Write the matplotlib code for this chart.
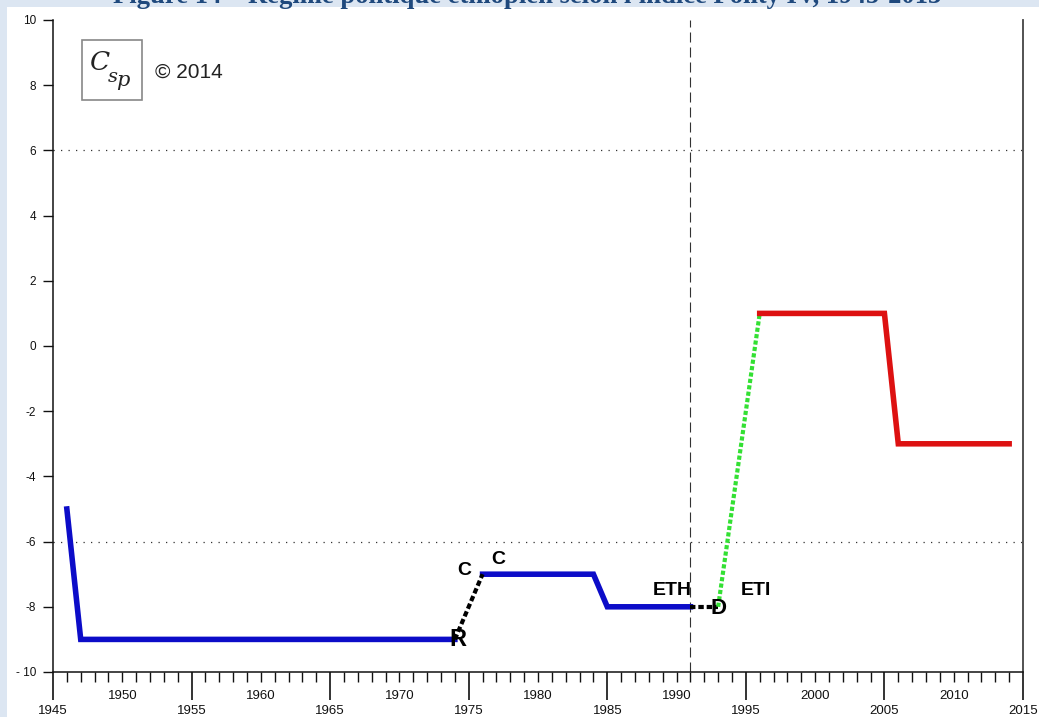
import matplotlib
matplotlib.use("Agg")
import matplotlib.pyplot as plt
from matplotlib.patches import Rectangle
from matplotlib.ticker import FixedLocator, FuncFormatter, MultipleLocator

# ---------------- data ----------------
title = "Figure 14 – Régime politique éthiopien selon l'indice Polity IV, 1945-2013"
autocracy1_years = [1946, 1947, 1974]
autocracy1_vals = [-5, -9, -9]
autocracy2_years = [1976, 1984, 1985, 1991]
autocracy2_vals = [-7, -7, -8, -8]
transition1_years = [1974, 1976]
transition1_vals = [-9, -7]
transition2_years = [1991, 1993]
transition2_vals = [-8, -8]
transition3_years = [1993, 1996]
transition3_vals = [-8, 1]
anocracy_years = [1996, 2005, 2006, 2014]
anocracy_vals = [1, 1, -3, -3]
event_labels = ["R", "C", "C", "ETH", "D", "ETI"]
event_x = [1974.2, 1974.7, 1977.1, 1989.7, 1993.0, 1995.7]
event_y = [-9.0, -6.9, -6.55, -7.5, -8.05, -7.5]
event_size = [17, 14, 14, 14, 16, 14]
y_ticks = [-10, -8, -6, -4, -2, 0, 2, 4, 6, 8, 10]
y_ticklabels = ["- 10", "-8", "-6", "-4", "-2", "0", "2", "4", "6", "8", "10"]
x_major = [1945, 1955, 1965, 1975, 1985, 1995, 2005, 2015]
ref_year = 1991
thresholds = [6, -6]

# ---------------- figure ----------------
W, H = 1039, 717
fig = plt.figure(figsize=(W / 100, H / 100), dpi=100)
fig.patch.set_facecolor("#dce6f2")
fig.patches.append(Rectangle((7 / W, 0), 1 - 7 / W, (H - 7) / H, transform=fig.transFigure,
                             facecolor="white", edgecolor="none", zorder=-10))

# title (only bottom part visible, cut off by the top edge as in the reference)
t = fig.text(527 / W, 1 - 3 / H, title, ha="center", va="baseline",
             fontsize=16, fontweight="bold", family="Liberation Serif", color="#1f497d")
fig.canvas.draw()
bb = t.get_window_extent()
t.set_fontsize(16 * 833 / bb.width)

ax = fig.add_axes([53 / W, (H - 672) / H, 970 / W, 652 / H])
ax.set_facecolor("none")
ax.set_xlim(1945, 2015)
ax.set_ylim(-10, 10)

ax.spines["top"].set_visible(False)
ax.spines["left"].set_linewidth(1.1)
ax.spines["bottom"].set_linewidth(1.1)
ax.spines["right"].set_linewidth(1.3)
ax.spines["right"].set_color("#444444")
ax.spines["left"].set_color("#111111")
ax.spines["bottom"].set_color("#111111")

# y ticks
ax.set_yticks(y_ticks)
ax.set_yticklabels(y_ticklabels)
ax.tick_params(axis="y", direction="out", length=7.2, width=1.0, pad=5,
               labelsize=8.5, colors="#111111")
for lab in ax.get_yticklabels():
    lab.set_family("Liberation Sans")

# x ticks: major every 5 years (long), minor every year (short), decade labels on minor
ax.xaxis.set_major_locator(FixedLocator(x_major))
ax.xaxis.set_major_formatter(FuncFormatter(lambda v, p: f"{int(round(v))}"))
ax.xaxis.set_minor_locator(MultipleLocator(1))
ax.xaxis.set_minor_formatter(FuncFormatter(
    lambda v, p: f"{int(round(v))}" if int(round(v)) % 10 == 0 else ""))
ax.tick_params(axis="x", which="major", direction="out", length=20, width=1.2,
               pad=3.5, labelsize=9.5, colors="#111111")
ax.tick_params(axis="x", which="minor", direction="out", length=7, width=1.0,
               pad=6, labelsize=9.5, colors="#111111")
for lab in ax.get_xticklabels(which="both"):
    lab.set_family("Liberation Sans")

# reference lines
for yv in thresholds:
    ax.axhline(yv, color="#333333", lw=0.9, linestyle=(0, (1, 5)), zorder=1)
ax.axvline(ref_year, color="#333333", lw=0.8, linestyle=(0, (9, 4.5)), zorder=1,
           ymin=0, ymax=1.0)

# series
blue = "#0c0cc8"
ax.plot(autocracy1_years, autocracy1_vals, color=blue, lw=4.0, solid_joinstyle="miter", zorder=3)
ax.plot(autocracy2_years, autocracy2_vals, color=blue, lw=4.0, solid_joinstyle="miter", zorder=3)
ax.plot(transition1_years, transition1_vals, color="black", lw=3.0,
        linestyle=(0, (1.3, 0.7)), zorder=3)
ax.plot(transition2_years, transition2_vals, color="black", lw=3.0,
        linestyle=(0, (1.3, 0.7)), zorder=3)
ax.plot(transition3_years, transition3_vals, color="#33e033", lw=3.0,
        linestyle=(0, (1.0, 0.55)), zorder=3)
ax.plot(anocracy_years, anocracy_vals, color="#dd1111", lw=4.0, solid_joinstyle="miter", zorder=3)

for lab, xx, yy, fs in zip(event_labels, event_x, event_y, event_size):
    ax.text(xx, yy, lab, ha="center", va="center", fontsize=fs, fontweight="bold",
            family="Liberation Sans", color="black", zorder=4)

# logo
fig.patches.append(Rectangle((82 / W, 1 - 100 / H), 60 / W, 60 / H, transform=fig.transFigure,
                             facecolor="white", edgecolor="#888888", lw=1.2, zorder=2))
fig.text(100 / W, 1 - 63 / H, "C", fontsize=19, family="DejaVu Serif", style="italic",
         ha="center", va="center", color="#222222")
fig.text(113 / W, 1 - 77 / H, "s", fontsize=14, family="DejaVu Serif", style="italic",
         ha="center", va="center", color="#222222")
fig.text(123 / W, 1 - 81 / H, "p", fontsize=15, family="DejaVu Serif", style="italic",
         ha="center", va="center", color="#222222")
fig.text(155 / W, 1 - 72 / H, "© 2014", fontsize=15, family="Liberation Sans",
         ha="left", va="center", color="#222222")

fig.savefig("out.png", dpi=100, facecolor=fig.get_facecolor())
